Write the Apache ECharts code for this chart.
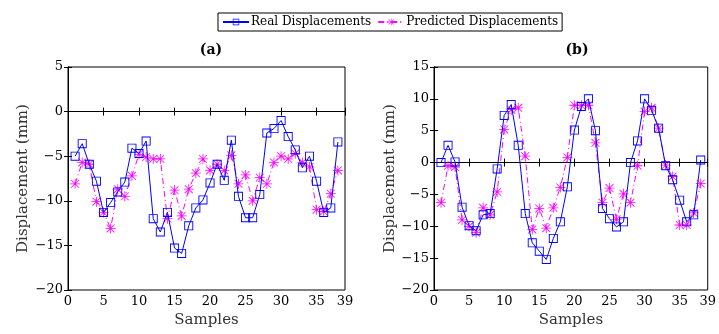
<!DOCTYPE html>
<html><head><meta charset="utf-8">
<script src="https://cdn.jsdelivr.net/npm/echarts@6/dist/echarts.min.js"></script>
<style>html,body{margin:0;padding:0;background:#fff}#c{width:719px;height:334px}</style>
</head><body><div id="c"></div>
<script>
const samples = [1,2,3,4,5,6,7,8,9,10,11,12,13,14,15,16,17,18,19,20,21,22,23,24,25,26,27,28,29,30,31,32,33,34,35,36,37,38];
const realA = [-5.0,-3.6,-5.9,-7.8,-11.3,-10.2,-9.0,-7.9,-4.1,-4.7,-3.3,-12.0,-13.5,-11.3,-15.3,-15.9,-12.8,-10.8,-9.9,-8.0,-5.9,-7.7,-3.2,-9.5,-11.9,-11.9,-9.3,-2.4,-1.9,-1.0,-2.8,-4.3,-6.3,-5.0,-7.8,-11.3,-10.8,-3.4];
const predA = [-8.1,-5.7,-5.9,-10.1,-11.3,-13.1,-8.7,-9.5,-7.2,-4.8,-5.1,-5.3,-5.3,-12.0,-8.8,-11.7,-8.7,-6.9,-5.3,-6.6,-5.9,-6.6,-4.9,-8.1,-7.1,-10.0,-7.4,-8.1,-5.7,-5.0,-5.3,-4.7,-5.7,-6.2,-11.0,-11.2,-9.2,-6.6];
const realB = [0.0,2.7,0.1,-7.0,-9.9,-10.7,-8.2,-8.0,-1.0,7.4,9.1,2.7,-8.0,-12.6,-13.9,-15.2,-11.9,-9.3,-3.8,5.1,8.8,10.0,5.0,-7.2,-8.8,-10.1,-9.3,0.0,3.4,10.0,8.2,5.4,-0.5,-2.7,-5.9,-9.3,-8.2,0.4];
const predB = [-6.3,-0.5,-0.7,-9.0,-10.0,-11.0,-7.1,-8.2,-4.6,5.2,8.3,8.6,1.0,-10.5,-7.2,-10.3,-7.1,-3.9,0.8,9.0,9.0,9.0,3.1,-6.3,-4.0,-8.9,-4.9,-6.3,-0.5,8.0,8.6,5.4,-0.4,-2.2,-9.8,-9.8,-7.9,-3.3];
const titles = ['(a)','(b)'];
const yRanges = [[-20,5],[-20,15]];

const SERIF = '"DejaVu Serif", "Liberation Serif", serif';
const star = 'path://M0 9.2H20V10.8H0Z M9.2 0H10.8V20H9.2Z M2.7 1.6L18.4 17.3L17.3 18.4L1.6 2.7Z M17.3 1.6L18.4 2.7L2.7 18.4L1.6 17.3Z';
const square = 'path://M0 0H20V20H0Z M2 2V18H18V2Z';
const fmt = v => String(v).replace('-', '\u2212');
const grids = [{left:68, top:67, width:277, height:223, show:true, borderColor:'#000', borderWidth:1},
               {left:434, top:67, width:278, height:223, show:true, borderColor:'#000', borderWidth:1}];
const xAxis = [], yAxis = [], series = [];
[0,1].forEach(i => {
  xAxis.push({type:'value', gridIndex:i, min:0, max:39, interval:5, position:'bottom',
    axisLine:{show:true,lineStyle:{color:'#000'}}, axisTick:{inside:true,length:4,lineStyle:{color:'#000'}},
    splitLine:{show:false}, axisLabel:{color:'#000', fontFamily:SERIF, fontSize:13, margin:5, formatter:fmt},
    name:'Samples', nameLocation:'middle', nameGap:22, nameTextStyle:{color:'#333', fontFamily:SERIF, fontSize:15}});
  xAxis.push({type:'value', gridIndex:i, min:0, max:39, interval:5, position:'top',
    axisLine:{show:true,lineStyle:{color:'#000'}}, axisTick:{inside:true,length:4,lineStyle:{color:'#000'}},
    splitLine:{show:false}, axisLabel:{show:false}});
  yAxis.push({type:'value', gridIndex:i, min:yRanges[i][0], max:yRanges[i][1], interval:5, position:'left',
    axisLine:{show:true,lineStyle:{color:'#000'}}, axisTick:{inside:true,length:4,lineStyle:{color:'#000'}},
    splitLine:{show:false}, axisLabel:{color:'#000', fontFamily:SERIF, fontSize:13, margin:5, formatter:fmt},
    name:'Displacement (mm)', nameLocation:'middle', nameGap: i===0?37:34, nameTextStyle:{color:'#333', fontFamily:SERIF, fontSize:15}});
  yAxis.push({type:'value', gridIndex:i, min:yRanges[i][0], max:yRanges[i][1], interval:5, position:'right',
    axisLine:{show:true,lineStyle:{color:'#000'}}, axisTick:{inside:true,length:4,lineStyle:{color:'#000'}},
    splitLine:{show:false}, axisLabel:{show:false}});
  const real = i===0?realA:realB, pred = i===0?predA:predB;
  series.push({name:'Real Displacements', type:'line', xAxisIndex:2*i, yAxisIndex:2*i,
    data: samples.map((s,k)=>[s, real[k]]), symbol:square, symbolSize:9,
    lineStyle:{color:'#0000ff', width:1}, itemStyle:{color:'#0000ff'}, z:3});
  series.push({name:'Predicted Displacements', type:'line', xAxisIndex:2*i, yAxisIndex:2*i,
    data: samples.map((s,k)=>[s, pred[k]]), symbol:star, symbolSize:10,
    lineStyle:{color:'#ff00ff', width:1, type:[6,3,1,3]}, itemStyle:{color:'#ff00ff'}, z:2});
});
const chart = echarts.init(document.getElementById('c'), null, {renderer:'canvas'});
chart.setOption({
  animation:false,
  title: titles.map((t,i)=>({text:t, left: i===0?206:572, top:38, textAlign:'center',
    textStyle:{fontFamily:SERIF, fontSize:14, fontWeight:'bold', color:'#000'}})),
  legend:{data:['Real Displacements','Predicted Displacements'], left:218, top:13,
    borderColor:'#000', borderWidth:1, padding:[3,4], itemGap:6, itemWidth:26, itemHeight:8,
    textStyle:{fontFamily:SERIF, fontSize:12, color:'#000', padding:[0,0,0,-3]}},
  grid: grids, xAxis, yAxis, series
});
</script></body></html>
